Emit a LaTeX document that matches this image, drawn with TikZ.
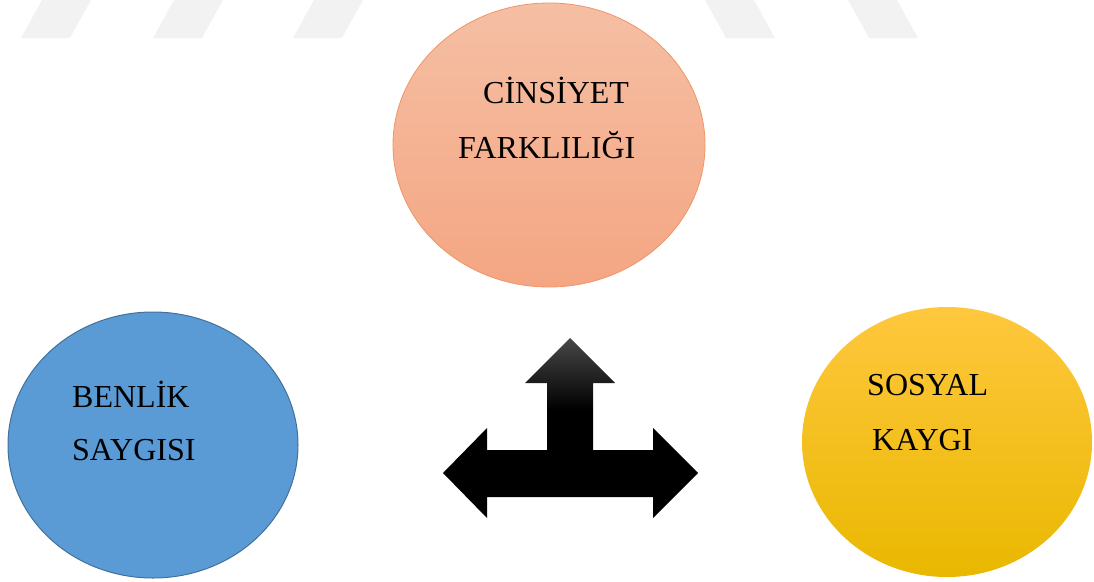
\documentclass[tikz,border=0pt]{standalone}
\usepackage{fontspec}
\setmainfont{Liberation Serif}
\usetikzlibrary{shapes.geometric}
\definecolor{TopClrA}{RGB}{245,191,164}
\definecolor{TopClrB}{RGB}{244,166,130}
\definecolor{TopLine}{RGB}{238,150,105}
\definecolor{LeftClr}{RGB}{91,155,213}
\definecolor{LeftLine}{RGB}{65,113,156}
\definecolor{RightClrA}{RGB}{255,199,62}
\definecolor{RightClrB}{RGB}{255,192,0}
\definecolor{RightClrC}{RGB}{233,184,0}
\definecolor{MarkClr}{RGB}{242,242,242}
\pgfdeclareverticalshading{arrowshade}{100bp}{color(0bp)=(black); color(25bp)=(black);
  color(55bp)=(black); color(75bp)=(black!72); color(100bp)=(black!72)}

\begin{document}
\begin{tikzpicture}[x=1pt,y=-1pt,
  bubble/.style={ellipse,inner sep=0pt,line width=.8pt},
  word/.style={anchor=base west,inner sep=0pt,font=\fontsize{32}{38}\selectfont}]
\useasboundingbox (0,0) rectangle (1094,581);

% faint bars at the top
\foreach \a in {21,153,293}
  \fill[MarkClr] (\a,38) -- (\a+49,38) -- (\a+70,0) -- (\a+21,0) -- cycle;
\foreach \a in {705,848}
  \fill[MarkClr] (\a,0) -- (\a+49,0) -- (\a+70,38) -- (\a+21,38) -- cycle;

\node[bubble,draw=TopLine,top color=TopClrA,bottom color=TopClrB,
  minimum width=312pt,minimum height=284pt] (gender) at (549,145) {};
\node[bubble,draw=LeftLine,line width=1pt,fill=LeftClr,
  minimum width=290pt,minimum height=266pt] (esteem) at (153,445) {};
\node[bubble,top color=RightClrA,middle color=RightClrB,bottom color=RightClrC,
  minimum width=290pt,minimum height=270pt] (anxiety) at (947,442) {};

\node[word] (g1) at (483,103) {CİNSİYET};
\node[word] (g2) at (458,158) {FARKLILIĞI};
\node[word] (e1) at (72,407) {BENLİK};
\node[word] (e2) at (72,460) {SAYGISI};
\node[word] (a1) at (867,395) {SOSYAL};
\node[word] (a2) at (872,450) {KAYGI};

% three-way arrow
\shade[shading=arrowshade]
  (443,473) -- (487,428) -- (487,450) -- (547,450) -- (547,383) -- (525,383)
  -- (570,338) -- (615,383) -- (593,383) -- (593,450) -- (653,450) -- (653,428)
  -- (698,473) -- (653,518) -- (653,497) -- (487,497) -- (487,518) -- cycle;

\end{tikzpicture}
\end{document}
